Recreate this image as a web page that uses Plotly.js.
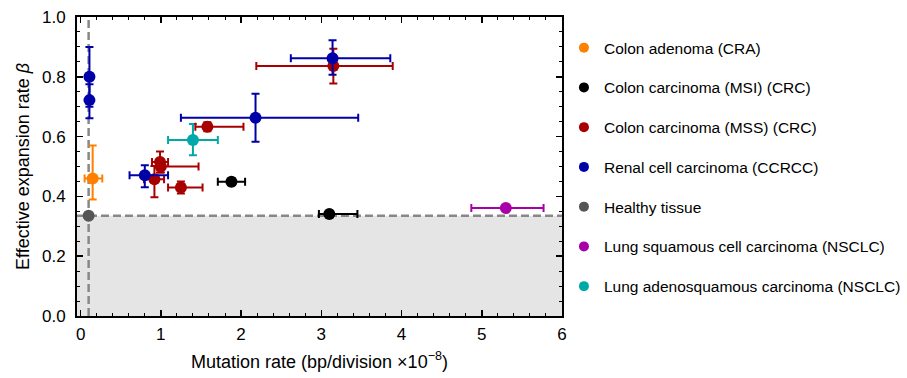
<!DOCTYPE html>
<html>
<head>
<meta charset="utf-8">
<script src="https://cdn.plot.ly/plotly-3.0.1.min.js"></script>
<style>html,body{margin:0;padding:0;background:#fff;}#chart{width:907px;height:378px;}</style>
</head>
<body>
<div id="chart"></div>
<script>
// Group names and colours
const groupNames = [
  "Colon adenoma (CRA)",
  "Colon carcinoma (MSI) (CRC)",
  "Colon carcinoma (MSS) (CRC)",
  "Renal cell carcinoma (CCRCC)",
  "Healthy tissue",
  "Lung squamous cell carcinoma (NSCLC)",
  "Lung adenosquamous carcinoma (NSCLC)"
];
const groupColors = ["#FF8000", "#000000", "#A80000", "#0000A8", "#555555", "#A800A8", "#00A8A8"];

// Values per group: mutation rate x, expansion rate y, and error bars
const craX = [0.15];  const craY = [0.46];
const craXp = [0.12]; const craXm = [0.10];
const craYp = [0.11]; const craYm = [0.07];

const msiX = [1.88, 3.10];  const msiY = [0.449, 0.341];
const msiXp = [0.17, 0.35]; const msiXm = [0.17, 0.13];
const msiYp = [0.012, 0.008]; const msiYm = [0.012, 0.008];

const mssX = [0.99, 1.00, 0.92, 1.25, 1.58, 3.15];
const mssY = [0.515, 0.50, 0.457, 0.43, 0.633, 0.836];
const mssXp = [0.10, 0.47, 0.12, 0.27, 0.45, 0.74];
const mssXm = [0.10, 0.05, 0.13, 0.16, 0.15, 0.96];
const mssYp = [0.035, 0.02, 0.045, 0.02, 0.015, 0.058];
const mssYm = [0.035, 0.02, 0.06, 0.02, 0.015, 0.058];

const rccX = [0.11, 0.11, 0.80, 2.18, 3.14];
const rccY = [0.80, 0.722, 0.471, 0.663, 0.862];
const rccXp = [0.0, 0.0, 0.29, 1.28, 0.72];
const rccXm = [0.0, 0.0, 0.19, 0.93, 0.52];
const rccYp = [0.10, 0.053, 0.033, 0.08, 0.06];
const rccYm = [0.10, 0.061, 0.04, 0.08, 0.055];

const healthyX = [0.10]; const healthyY = [0.335];

const lscX = [5.30];  const lscY = [0.361];
const lscXp = [0.47]; const lscXm = [0.43];

const lasX = [1.40];  const lasY = [0.589];
const lasXp = [0.31]; const lasXm = [0.31];
const lasYp = [0.053]; const lasYm = [0.051];

// Reference lines (healthy tissue)
const healthyBeta = 0.335;
const healthyMu = 0.1;

const xTickVals = [0, 1, 2, 3, 4, 5, 6];
const yTickVals = [0, 0.2, 0.4, 0.6, 0.8, 1.0];

function errTrace(x, y, xp, xm, yp, ym, color) {
  const t = {
    x: x, y: y, type: 'scatter', mode: 'markers', showlegend: false,
    marker: {color: color, size: 12, line: {width: 0}},
    hoverinfo: 'x+y'
  };
  if (xp) t.error_x = {type: 'data', symmetric: false, array: xp, arrayminus: xm, color: color, thickness: 2, width: 4};
  if (yp) t.error_y = {type: 'data', symmetric: false, array: yp, arrayminus: ym, color: color, thickness: 2, width: 4};
  return t;
}

const traces = [
  errTrace(healthyX, healthyY, null, null, null, null, groupColors[4]),
  errTrace(craX, craY, craXp, craXm, craYp, craYm, groupColors[0]),
  errTrace(msiX, msiY, msiXp, msiXm, msiYp, msiYm, groupColors[1]),
  errTrace(lasX, lasY, lasXp, lasXm, lasYp, lasYm, groupColors[6]),
  errTrace(lscX, lscY, lscXp, lscXm, null, null, groupColors[5]),
  errTrace(mssX, mssY, mssXp, mssXm, mssYp, mssYm, groupColors[2]),
  errTrace(rccX, rccY, rccXp, rccXm, rccYp, rccYm, groupColors[3])
];

// Legend-only entries
groupNames.forEach((name, i) => {
  traces.push({
    x: [null], y: [null], type: 'scatter', mode: 'markers', name: name,
    legendgroup: 'g' + i,
    marker: {color: groupColors[i], size: 10}
  });
});

const fam = 'Liberation Sans, Arial, sans-serif';
const tickFont = {family: fam, size: 17, color: '#000'};
const titleFont = {family: fam, size: 18, color: '#000'};

const layout = {
  width: 907, height: 378,
  margin: {l: 77, r: 345, t: 17, b: 62, autoexpand: false},
  paper_bgcolor: '#fff', plot_bgcolor: '#fff',
  font: {family: fam, size: 15.5, color: '#000'},
  xaxis: {
    range: [-0.045, 6], tickvals: xTickVals, ticktext: xTickVals.map(String),
    ticks: 'inside', ticklen: 6, tickwidth: 1.5, tickcolor: '#000',
    minor: {dtick: 0.2, tick0: 0, ticks: 'inside', ticklen: 3, tickwidth: 1, tickcolor: '#000'},
    showline: true, linecolor: '#000', linewidth: 2, mirror: 'ticks',
    showgrid: false, zeroline: false, tickfont: tickFont, ticklabelstandoff: 2,
    title: {text: 'Mutation rate (bp/division ×10<sup>−8</sup>)', font: titleFont, standoff: 12}
  },
  yaxis: {
    range: [0, 1], tickvals: yTickVals, ticktext: yTickVals.map(v => v.toFixed(1)),
    ticks: 'inside', ticklen: 6, tickwidth: 1.5, tickcolor: '#000',
    minor: {dtick: 0.05, tick0: 0, ticks: 'inside', ticklen: 3, tickwidth: 1, tickcolor: '#000'},
    showline: true, linecolor: '#000', linewidth: 2, mirror: 'ticks',
    showgrid: false, zeroline: false, tickfont: tickFont, ticklabelstandoff: 6,
    title: {text: 'Effective expansion rate <i>β</i>', font: titleFont, standoff: 8}
  },
  shapes: [
    {type: 'rect', xref: 'paper', yref: 'y', x0: 0, x1: 1, y0: 0, y1: healthyBeta,
     fillcolor: '#E5E5E5', line: {width: 0}, layer: 'below'},
    {type: 'line', xref: 'paper', yref: 'y', x0: 0, x1: 1, y0: healthyBeta, y1: healthyBeta,
     line: {color: '#888888', width: 2.5, dash: '8px,4px'}, layer: 'below'},
    {type: 'line', xref: 'x', yref: 'paper', x0: healthyMu, x1: healthyMu, y0: 0, y1: 1,
     line: {color: '#888888', width: 2.5, dash: '8px,4px'}, layer: 'below'}
  ],
  legend: {
    x: 1.004, xref: 'paper', y: 0.953, xanchor: 'left', yanchor: 'top',
    font: {family: fam, size: 15.5, color: '#000'},
    tracegroupgap: 16.6, itemwidth: 30, bgcolor: 'rgba(0,0,0,0)'
  },
  showlegend: true
};

Plotly.newPlot('chart', traces, layout, {displayModeBar: false, staticPlot: true});
</script>
</body>
</html>
